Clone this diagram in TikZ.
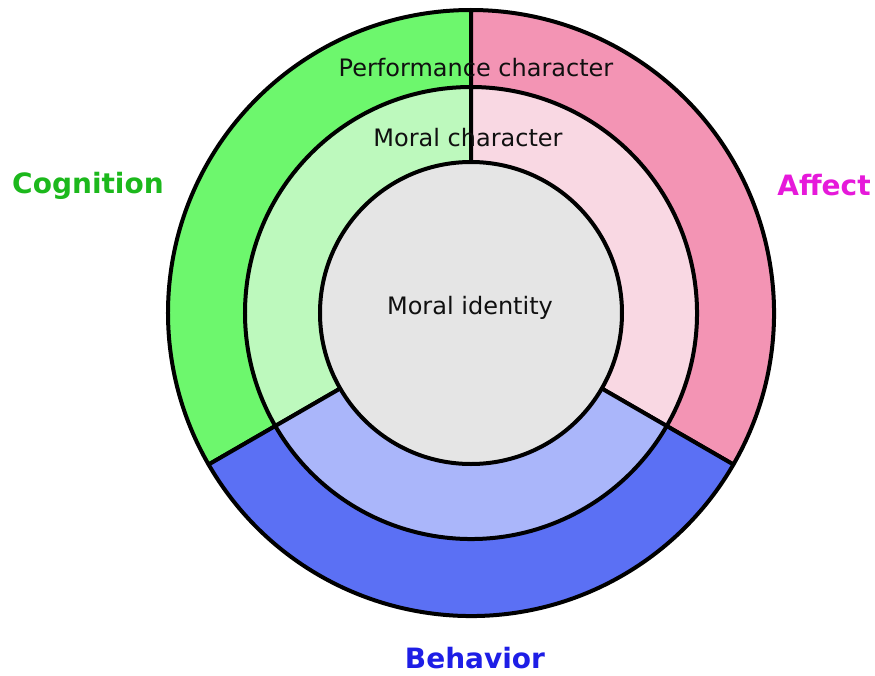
\documentclass[tikz,border=0pt]{standalone}
\usepackage{fontspec}
\setmainfont{DejaVu Sans}
\definecolor{gOut}{HTML}{6DF76D}
\definecolor{gIn}{HTML}{BDF9BD}
\definecolor{pOut}{HTML}{F394B4}
\definecolor{pIn}{HTML}{F9D8E3}
\definecolor{bOut}{HTML}{5B70F4}
\definecolor{bIn}{HTML}{AAB6FA}
\definecolor{core}{HTML}{E5E5E5}
\definecolor{txt}{HTML}{101010}
\definecolor{cogC}{HTML}{1CB81C}
\definecolor{affC}{HTML}{E619DA}
\definecolor{behC}{HTML}{1E1EE6}
\begin{document}
\begin{tikzpicture}[x=1pt,y=1pt,
  seg/.style={draw=black,line width=4pt,line join=round},
  lbl/.style={text=txt,font=\fontsize{24}{28}\selectfont,inner sep=0pt},
  dom/.style={font=\fontsize{28}{32}\selectfont\bfseries,inner sep=0pt}]
\useasboundingbox (-471,-362) rectangle (404,313);
% outer ring sectors
\path[seg,fill=gOut] (0,0) -- (90:303) arc[start angle=90,end angle=210,radius=303] -- cycle;
\path[seg,fill=pOut] (0,0) -- (-30:303) arc[start angle=-30,end angle=90,radius=303] -- cycle;
\path[seg,fill=bOut] (0,0) -- (210:303) arc[start angle=210,end angle=330,radius=303] -- cycle;
% middle ring sectors
\path[seg,fill=gIn] (0,0) -- (90:226) arc[start angle=90,end angle=210,radius=226] -- cycle;
\path[seg,fill=pIn] (0,0) -- (-30:226) arc[start angle=-30,end angle=90,radius=226] -- cycle;
\path[seg,fill=bIn] (0,0) -- (210:226) arc[start angle=210,end angle=330,radius=226] -- cycle;
% core
\path[seg,fill=core] (0,0) circle[radius=151];
% labels
\node[lbl] (perf) at (5,245) {Performance character};
\node[lbl] (moralc) at (-3,175) {Moral character};
\node[lbl] (moralid) at (-1,5) {Moral identity};
\node[dom,text=cogC] (cog) at (-383,127) {Cognition};
\node[dom,text=affC] (aff) at (353,128) {Affect};
\node[dom,text=behC] (beh) at (4,-345) {Behavior};
\end{tikzpicture}
\end{document}
